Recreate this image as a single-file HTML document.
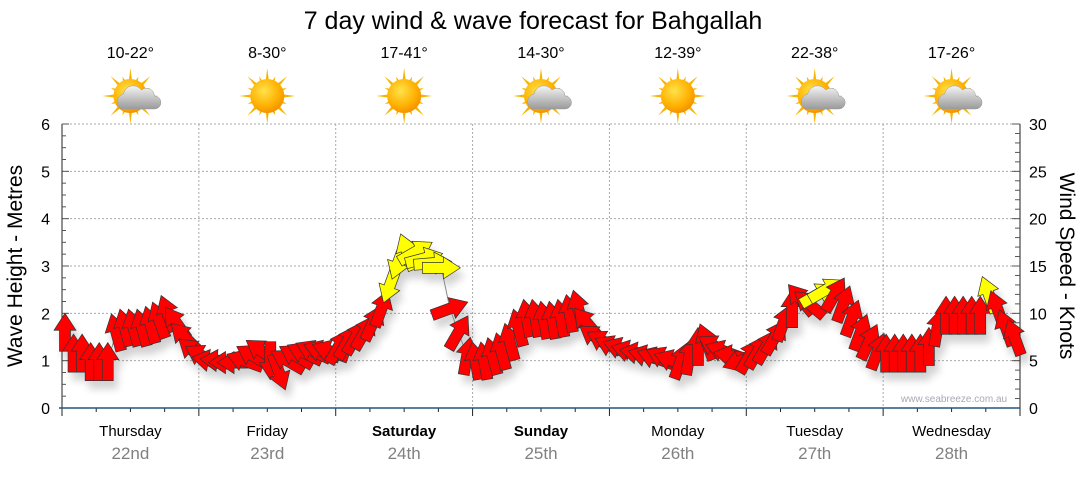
<!DOCTYPE html>
<html><head><meta charset="utf-8"><style>
body{margin:0;background:#fff;width:1080px;height:475px;overflow:hidden;font-family:"Liberation Sans",sans-serif}
</style></head><body>
<svg id="chart" width="1080" height="475" xmlns="http://www.w3.org/2000/svg" font-family="Liberation Sans, sans-serif">
<defs>
<radialGradient id="sunG" cx="40%" cy="35%" r="65%"><stop offset="0" stop-color="#ffe24a"/><stop offset="0.7" stop-color="#ffb000"/><stop offset="1" stop-color="#f39400"/></radialGradient>
<linearGradient id="cloudG" x1="0" y1="0" x2="0" y2="1"><stop offset="0" stop-color="#f4f4f4"/><stop offset="1" stop-color="#9a9a9a"/></linearGradient>
<filter id="shadow" x="-50%" y="-50%" width="200%" height="200%"><feGaussianBlur in="SourceAlpha" stdDeviation="4"/><feOffset dx="4" dy="8"/><feComponentTransfer><feFuncA type="linear" slope="0.18"/></feComponentTransfer><feMerge><feMergeNode/><feMergeNode in="SourceGraphic"/></feMerge></filter>
</defs>
<text x="533" y="29" font-size="25" text-anchor="middle" fill="#000">7 day wind &amp; wave forecast for Bahgallah</text>
<g id="grid"></g><g id="axes"></g><g id="topg"></g>
<text transform="translate(22,266) rotate(-90)" font-size="21" text-anchor="middle">Wave Height - Metres</text>
<text transform="translate(1060,266) rotate(90)" font-size="21" text-anchor="middle">Wind Speed - Knots</text>
<text x="954" y="402" font-size="10" fill="#a9a9b5" text-anchor="middle">www.seabreeze.com.au</text>
<g id="marks" filter="url(#shadow)"></g>
</svg>
<script>
const days=["Thursday","Friday","Saturday","Sunday","Monday","Tuesday","Wednesday"];
const dates=["22nd","23rd","24th","25th","26th","27th","28th"];
const temps=["10-22°","8-30°","17-41°","14-30°","12-39°","22-38°","17-26°"];
const cloudy=[1,0,0,1,0,1,1];
const boldDays=[0,0,1,1,0,0,0];
const windKnots=[8,5.8,5.8,4.9,4.9,4.9,8,8.5,8.5,8.5,8.8,9.3,10,9,7.5,6,
5.5,5,5,4.8,4.8,5,5.5,6,5,3.8,5,5.5,5.8,6,6,6,
6.5,7,7.5,8,9,10.5,13,15.5,16.5,16.5,15.8,15.3,14.8,10.5,8,5.5,
5,5,5.5,6,7,8.5,9.5,9.5,9.3,9.3,9.5,10,10.5,9,7.5,7,
6.5,6.3,6,5.8,5.5,5.3,5.3,5,5,5.5,6.5,7,6.5,6,5.5,5,
5.5,6,6.5,7.5,9,10.5,11.5,11,12,12.5,12,11,9.5,8,7,6,
5.8,5.8,5.8,5.8,5.8,6.5,8.5,9.8,9.8,9.8,9.8,9.8,12,10.5,8.5,7.5];
const windDir=[0,0,0,0,0,0,-15,-15,-15,-15,-15,-20,-20,-35,-45,-50,
-60,-80,-85,-90,-90,-70,-60,-55,180,160,-60,-60,-65,-65,-70,-70,
30,30,30,30,25,20,200,200,-20,60,75,85,90,70,30,10,
-10,-10,-15,-15,-15,-15,-10,-10,-10,-10,-10,-10,-15,-40,-55,-60,
-65,-70,-75,-80,-75,-70,-65,-70,20,10,0,-20,-60,-70,-80,-110,
30,30,30,30,20,0,-40,-50,60,60,30,20,20,20,25,20,
0,0,0,0,0,0,10,0,0,0,0,0,-20,-20,-20,-20];
const yellowFlag=[0,0,0,0,0,0,0,0,0,0,0,0,0,0,0,0, 0,0,0,0,0,0,0,0,0,0,0,0,0,0,0,0,
0,0,0,0,0,0,1,1,1,1,1,1,1,0,0,0, 0,0,0,0,0,0,0,0,0,0,0,0,0,0,0,0,
0,0,0,0,0,0,0,0,0,0,0,0,0,0,0,0, 0,0,0,0,0,0,0,0,1,1,0,0,0,0,0,0,
0,0,0,0,0,0,0,0,0,0,0,0,1,0,0,0];
const waveTicks=[0,1,2,3,4,5,6];
const knotTicks=[0,5,10,15,20,25,30];

const X0=62,X1=1020,Y0=408,Y1=124;
const dayW=(X1-X0)/7;
const yM=v=>Y0-(v/6)*(Y0-Y1);
const yK=v=>Y0-(v/30)*(Y0-Y1);
const xI=i=>X0+3+i*dayW/16;
const NS="http://www.w3.org/2000/svg";
function mk(tag,attrs,parent,txt){const e=document.createElementNS(NS,tag);for(const k in attrs)e.setAttribute(k,attrs[k]);if(txt!==undefined)e.textContent=txt;parent.appendChild(e);return e;}
const gridG=document.getElementById('grid'),axesG=document.getElementById('axes'),topG=document.getElementById('topg'),marksG=document.getElementById('marks');

waveTicks.forEach(v=>{if(v>0){const l=mk('line',{x1:X0,x2:X1,y1:yM(v),y2:yM(v),stroke:'#aaa','stroke-dasharray':'2,2'},gridG);

}
const t=mk('text',{x:X0-12,y:yM(v)+6,'font-size':16,'text-anchor':'end'},axesG,String(v));

});
knotTicks.forEach(v=>{const t=mk('text',{x:X1+9,y:yK(v)+6,'font-size':16},axesG,String(v));

});
for(let d=1;d<7;d++){const l=mk('line',{x1:X0+d*dayW,x2:X0+d*dayW,y1:Y1,y2:Y0,stroke:'#aaa','stroke-dasharray':'2,2'},gridG);

}
mk('line',{x1:X0,x2:X0,y1:Y1,y2:Y0,stroke:'#222'},axesG);
mk('line',{x1:X1,x2:X1,y1:Y1,y2:Y0,stroke:'#222'},axesG);
for(let m=0;m<=24;m++){const y=Y0-m*(Y0-Y1)/24;mk('line',{x1:X0,x2:X0+(m%4?4:7),y1:y,y2:y,stroke:'#555'},axesG);}
for(let k=0;k<=30;k++){const y=yK(k);mk('line',{x1:X1,x2:X1-(k%5?5:8),y1:y,y2:y,stroke:'#555'},axesG);}
for(let q=0;q<=28;q++){const x=X0+q*dayW/4;mk('line',{x1:x,x2:x,y1:Y0,y2:Y0+(q%4?4:8),stroke:'#222'},axesG);}
mk('line',{x1:X0-3,x2:X1,y1:Y0,y2:Y0,stroke:'#1f5880','stroke-width':1.5},axesG);

function sun(g,cx,cy){for(let r=0;r<16;r++){const a=r*Math.PI/8,L=r%2?21:28;
mk('polygon',{points:`${cx+Math.cos(a-0.13)*14},${cy+Math.sin(a-0.13)*14} ${cx+Math.cos(a)*L},${cy+Math.sin(a)*L} ${cx+Math.cos(a+0.13)*14},${cy+Math.sin(a+0.13)*14}`,fill:'#f7b500'},g);}
mk('circle',{cx,cy,r:17,fill:'url(#sunG)'},g);}
days.forEach((d,i)=>{const cx=X0+(i+0.5)*dayW;
const t=mk('text',{x:cx,y:58,'font-size':16,'text-anchor':'middle'},topG,temps[i]);


const g=mk('g',{},topG);


sun(g,cx,96);
if(cloudy[i]){mk('path',{d:`M${cx-9},${109} a8,8 0 0 1 2,-15 a10,10 0 0 1 18,-4 a8,8 0 0 1 13,6 a6.5,6.5 0 0 1 0,13 z`,fill:'url(#cloudG)',stroke:'#999','stroke-width':0.5},g);}
const dl=mk('text',{x:cx,y:436,'font-size':15,'text-anchor':'middle','font-weight':boldDays[i]?'bold':'normal'},axesG,d);


const dt=mk('text',{x:cx,y:459,'font-size':17,'text-anchor':'middle',fill:'#808080'},axesG,dates[i]);

});

let pts=windKnots.map((k,i)=>`${xI(i)},${yK(k)}`).join(' ');
const pl=mk('polyline',{points:pts,fill:'none',stroke:'#888','stroke-width':1},marksG);


windKnots.forEach((k,i)=>{
const a=mk('polygon',{points:'0,-19 11,-2 5.5,-2 5.5,19 -5.5,19 -5.5,-2 -11,-2',fill:yellowFlag[i]?'#ffff00':'#ff0000',stroke:'#333','stroke-width':0.7,transform:`translate(${xI(i)},${yK(k)}) rotate(${windDir[i]})`},marksG);

});
</script>
</body></html>
